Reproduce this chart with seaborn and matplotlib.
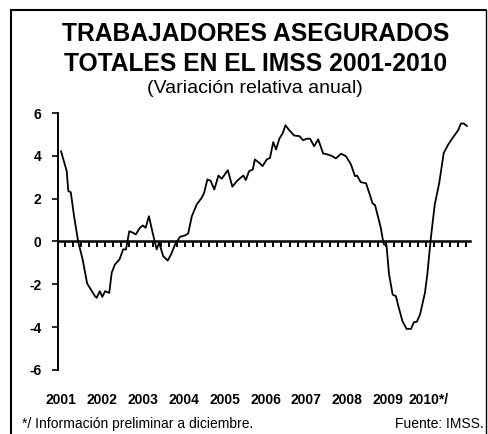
import numpy as np
import pandas as pd
import seaborn as sns
import matplotlib.pyplot as plt
from matplotlib.lines import Line2D
import matplotlib.transforms as mtransforms

# Data (decimal year, annual % change)
fecha = [2001.00, 2001.14, 2001.18, 2001.24, 2001.32, 2001.42, 2001.53, 2001.64,
         2001.83, 2001.87, 2001.95, 2002.01, 2002.08, 2002.18, 2002.24, 2002.32,
         2002.43, 2002.52, 2002.59, 2002.67, 2002.75, 2002.83, 2002.93, 2003.00,
         2003.07, 2003.15, 2003.24, 2003.34, 2003.40, 2003.50, 2003.61, 2003.69,
         2003.79, 2003.91, 2004.03, 2004.11, 2004.20, 2004.32, 2004.44, 2004.50,
         2004.58, 2004.66, 2004.75, 2004.85, 2004.93, 2005.08, 2005.19, 2005.30,
         2005.42, 2005.46, 2005.52, 2005.60, 2005.69, 2005.74, 2005.85, 2005.93,
         2006.03, 2006.11, 2006.19, 2006.26, 2006.34, 2006.42, 2006.49, 2006.58,
         2006.70, 2006.83, 2006.92, 2007.01, 2007.09, 2007.19, 2007.29, 2007.41,
         2007.51, 2007.62, 2007.72, 2007.85, 2007.97, 2008.09, 2008.19, 2008.24,
         2008.33, 2008.41, 2008.46, 2008.55, 2008.62, 2008.68, 2008.76, 2008.82,
         2008.87, 2008.90, 2008.96, 2009.02, 2009.11, 2009.19, 2009.25, 2009.35,
         2009.45, 2009.56, 2009.63, 2009.70, 2009.78, 2009.90, 2009.96, 2010.04,
         2010.14, 2010.25, 2010.36, 2010.47, 2010.59, 2010.71, 2010.78, 2010.85,
         2010.93]
variacion = [4.22, 3.29, 2.35, 2.30, 1.18, 0.00, -0.84, -1.96,
             -2.55, -2.63, -2.32, -2.59, -2.32, -2.40, -1.46, -1.07,
             -0.84, -0.37, -0.37, 0.48, 0.42, 0.33, 0.64, 0.75,
             0.64, 1.18, 0.42, -0.37, -0.06, -0.69, -0.89, -0.61,
             -0.14, 0.22, 0.28, 0.37, 1.18, 1.73, 2.04, 2.27,
             2.90, 2.83, 2.43, 3.08, 2.93, 3.33, 2.56, 2.82,
             3.02, 3.08, 2.87, 3.29, 3.36, 3.83, 3.67, 3.52,
             3.83, 3.90, 4.64, 4.30, 4.80, 5.05, 5.43, 5.20,
             4.95, 4.92, 4.73, 4.80, 4.80, 4.45, 4.77, 4.11,
             4.07, 4.00, 3.88, 4.10, 3.98, 3.60, 3.05, 3.08,
             2.77, 2.74, 2.72, 2.20, 1.78, 1.70, 1.10, 0.64,
             0.09, -0.14, -0.17, -1.50, -2.48, -2.55, -3.02, -3.72,
             -4.08, -4.08, -3.77, -3.75, -3.41, -2.40, -1.50, 0.09,
             1.73, 2.74, 4.14, 4.53, 4.87, 5.19, 5.51, 5.51,
             5.39]
anios = [2001, 2002, 2003, 2004, 2005, 2006, 2007, 2008, 2009, 2010]
etiquetas_anios = ['2001', '2002', '2003', '2004', '2005', '2006', '2007', '2008', '2009', '2010*/']

df = pd.DataFrame({'fecha': fecha, 'variacion': variacion})

sns.set_style('white')
plt.rcParams['font.family'] = ['Liberation Sans', 'DejaVu Sans']
plt.rcParams['text.color'] = 'black'
plt.rcParams['xtick.color'] = 'black'
plt.rcParams['ytick.color'] = 'black'
plt.rcParams['axes.edgecolor'] = 'black'

fig = plt.figure(figsize=(4.89, 4.34), dpi=100)
ax = fig.add_axes([0.1186, 0.1475, 0.8424, 0.5921])

sns.lineplot(data=df, x='fecha', y='variacion', ax=ax, color='black', linewidth=1.3)

ax.set_xlim(2000.927, 2011.0)
ax.set_ylim(-6, 6)

# spines: left axis, bottom axis sits on zero
for s in ['top', 'right']:
    ax.spines[s].set_visible(False)
ax.spines['left'].set_linewidth(1.4)
ax.spines['bottom'].set_position(('data', 0))
ax.spines['bottom'].set_linewidth(1.8)

ax.set_yticks([-6, -4, -2, 0, 2, 4, 6])
ax.set_yticklabels(['-6', '-4', '-2', '0', '2', '4', '6'], fontsize=10, fontweight='bold')
ax.tick_params(axis='y', direction='out', length=4, width=1.2, pad=8, left=True)

ax.xaxis.set_major_locator(plt.FixedLocator(np.arange(2001.1, 2011.0, 0.196)))
ax.tick_params(axis='x', direction='out', length=4, width=1.4, bottom=True, labelbottom=False)
ax.set_xlabel('')
ax.set_ylabel('')

# year labels below the axes
trans = mtransforms.blended_transform_factory(ax.transData, ax.transAxes)
for a, lab in zip(anios, etiquetas_anios):
    ax.text(a, -0.117, lab, transform=trans, ha='center', va='center',
            fontsize=10, fontweight='bold')

# titles
fig.text(0.522, 0.922, 'TRABAJADORES ASEGURADOS', ha='center', va='center',
         fontsize=17.7, fontweight='bold')
fig.text(0.522, 0.853, 'TOTALES EN EL IMSS 2001-2010', ha='center', va='center',
         fontsize=17.7, fontweight='bold')
fig.text(0.522, 0.795, '(Variación relativa anual)', ha='center', va='center',
         fontsize=14)

# footnotes
fig.text(0.045, 0.022, '*/ Información preliminar a diciembre.', ha='left', va='center', fontsize=10)
fig.text(0.988, 0.022, 'Fuente: IMSS.', ha='right', va='center', fontsize=10)

# frame around the chart
fig.add_artist(Line2D([0.023, 0.023], [0.0, 0.977], transform=fig.transFigure, color='black', lw=1.5))
fig.add_artist(Line2D([0.023, 0.994], [0.977, 0.977], transform=fig.transFigure, color='black', lw=1.5))
fig.add_artist(Line2D([0.994, 0.994], [0.0, 0.977], transform=fig.transFigure, color='black', lw=1.0))

fig.savefig('out.png', dpi=100)
